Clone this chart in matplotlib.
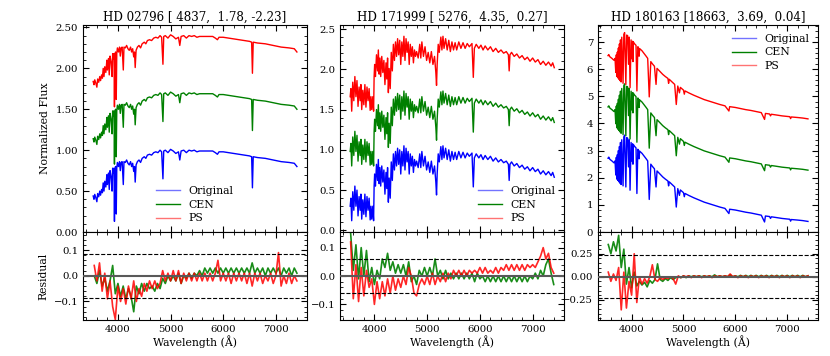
import matplotlib
matplotlib.use('Agg')
import matplotlib.pyplot as plt
import numpy as np
from matplotlib.ticker import AutoMinorLocator, FormatStrFormatter

plt.rcParams['font.family'] = 'DejaVu Serif'
plt.rcParams['mathtext.fontset'] = 'dejavuserif'

# ---- data ----
titles = ['HD 02796 [ 4837,  1.78, -2.23]',
          'HD 171999 [ 5276,  4.35,  0.27]',
          'HD 180163 [18663,  3.69,  0.04]']
labels = ['Original', 'CEN', 'PS']

# original spectrum, (wavelength, normalized flux)
spec_02796 = [(3530, 0.44), (3545, 0.40), (3560, 0.46), (3580, 0.42), (3600, 0.37), (3615, 0.47),
              (3635, 0.43), (3655, 0.50), (3670, 0.45), (3690, 0.52), (3705, 0.48), (3720, 0.60),
              (3735, 0.50), (3750, 0.62), (3770, 0.55), (3790, 0.70), (3800, 0.58), (3820, 0.72),
              (3835, 0.52), (3850, 0.75), (3870, 0.68), (3889, 0.50), (3900, 0.78), (3915, 0.72),
              (3925, 0.78), (3934, 0.13), (3943, 0.75), (3955, 0.80), (3968, 0.22), (3978, 0.78),
              (3990, 0.85), (4010, 0.80), (4030, 0.86), (4045, 0.75), (4060, 0.85), (4080, 0.86),
              (4102, 0.58), (4115, 0.86), (4140, 0.85), (4165, 0.88), (4190, 0.84), (4215, 0.82),
              (4240, 0.86), (4260, 0.80), (4280, 0.84), (4300, 0.74), (4315, 0.80), (4328, 0.61),
              (4345, 0.82), (4370, 0.86), (4400, 0.88), (4430, 0.85), (4460, 0.90), (4500, 0.92),
              (4530, 0.90), (4560, 0.94), (4600, 0.95), (4640, 0.94), (4680, 0.97), (4720, 0.98),
              (4760, 0.97), (4800, 1.00), (4830, 0.98), (4855, 0.65), (4870, 0.99), (4900, 1.00),
              (4950, 0.97), (5000, 1.01), (5050, 0.99), (5100, 0.96), (5150, 0.98), (5175, 0.88),
              (5200, 0.99), (5250, 1.00), (5300, 0.97), (5350, 1.00), (5400, 0.99), (5450, 1.00),
              (5500, 0.98), (5550, 0.99), (5600, 0.99), (5700, 0.99), (5800, 0.99), (5850, 0.97),
              (5890, 0.95), (5920, 0.98), (6000, 0.98), (6100, 0.97), (6200, 0.96), (6300, 0.95),
              (6400, 0.94), (6500, 0.93), (6540, 0.92), (6555, 0.54), (6570, 0.92), (6650, 0.91),
              (6800, 0.90), (6950, 0.88), (7100, 0.86), (7250, 0.85), (7350, 0.84), (7400, 0.80)]

spec_171999 = [(3541, 0.30), (3555, 0.40), (3570, 0.12), (3590, 0.48), (3610, 0.25), (3630, 0.55),
               (3650, 0.30), (3670, 0.50), (3690, 0.18), (3710, 0.42), (3730, 0.25), (3745, 0.45),
               (3760, 0.14), (3780, 0.38), (3800, 0.20), (3820, 0.45), (3840, 0.17), (3860, 0.42),
               (3880, 0.25), (3900, 0.40), (3920, 0.13), (3935, 0.30), (3950, 0.14), (3970, 0.30),
               (3985, 0.12), (3995, 0.55), (4005, 0.70), (4020, 0.55), (4040, 0.82), (4060, 0.62),
               (4075, 0.88), (4090, 0.58), (4105, 0.78), (4120, 0.55), (4140, 0.80), (4160, 0.60),
               (4180, 0.75), (4200, 0.45), (4220, 0.72), (4235, 0.52), (4250, 0.78), (4265, 0.35),
               (4280, 0.65), (4300, 0.40), (4320, 0.85), (4340, 0.62), (4360, 0.95), (4380, 0.75),
               (4400, 0.98), (4420, 0.80), (4440, 1.02), (4460, 0.82), (4480, 1.00), (4500, 0.70),
               (4520, 0.98), (4540, 0.80), (4560, 1.05), (4580, 0.75), (4600, 1.02), (4620, 0.85),
               (4640, 0.98), (4660, 0.70), (4680, 0.95), (4700, 0.80), (4720, 0.92), (4740, 0.72),
               (4760, 0.88), (4780, 0.80), (4800, 0.86), (4830, 0.78), (4860, 0.95), (4880, 0.78),
               (4900, 0.98), (4930, 0.80), (4960, 0.92), (4990, 0.75), (5020, 0.85), (5050, 0.72),
               (5080, 0.86), (5110, 0.70), (5140, 0.80), (5165, 0.60), (5178, 0.44), (5190, 0.70),
               (5210, 0.95), (5230, 0.85), (5260, 1.04), (5280, 0.88), (5300, 1.05), (5320, 0.90),
               (5350, 1.02), (5380, 0.88), (5410, 1.00), (5440, 0.86), (5470, 0.98), (5500, 0.88),
               (5530, 0.97), (5560, 0.88), (5600, 0.98), (5640, 0.90), (5680, 0.97), (5720, 0.90),
               (5760, 0.96), (5800, 0.92), (5850, 0.96), (5875, 0.54), (5895, 0.90), (5930, 0.95),
               (5980, 0.90), (6020, 0.94), (6060, 0.88), (6100, 0.93), (6150, 0.88), (6200, 0.92),
               (6250, 0.86), (6300, 0.90), (6350, 0.85), (6400, 0.88), (6450, 0.84), (6500, 0.86),
               (6540, 0.82), (6555, 0.62), (6570, 0.82), (6600, 0.85), (6650, 0.80), (6700, 0.83),
               (6750, 0.78), (6800, 0.81), (6850, 0.76), (6900, 0.79), (6950, 0.74), (7000, 0.78),
               (7050, 0.73), (7100, 0.76), (7150, 0.70), (7200, 0.74), (7250, 0.69), (7300, 0.73),
               (7350, 0.68), (7380, 0.72), (7410, 0.66)]

spec_180163 = [(3545, 2.72), (3560, 2.76), (3580, 2.68), (3620, 2.62), (3660, 2.55), (3680, 2.62),
               (3695, 2.10), (3705, 2.75), (3715, 1.95), (3725, 2.85), (3735, 1.90), (3745, 3.00),
               (3755, 1.85), (3765, 3.15), (3775, 1.80), (3785, 3.30), (3797, 1.75), (3810, 3.40),
               (3835, 1.70), (3850, 3.50), (3865, 3.57), (3889, 1.66), (3905, 3.48), (3925, 3.45),
               (3940, 2.40), (3955, 3.40), (3970, 1.54), (3990, 3.30), (4009, 2.60), (4020, 3.25),
               (4026, 2.50), (4035, 3.22), (4060, 3.15), (4085, 3.10), (4102, 1.42), (4120, 3.05),
               (4135, 3.00), (4144, 2.70), (4155, 2.98), (4200, 2.90), (4240, 2.80), (4280, 2.70),
               (4310, 2.62), (4340, 1.20), (4370, 2.50), (4400, 2.42), (4440, 2.33), (4471, 1.66),
               (4490, 2.25), (4550, 2.13), (4600, 2.03), (4650, 1.95), (4700, 1.88), (4713, 1.70),
               (4725, 1.85), (4780, 1.75), (4830, 1.66), (4861, 0.92), (4890, 1.60), (4922, 1.35),
               (4940, 1.55), (5000, 1.45), (5016, 1.30), (5030, 1.42), (5100, 1.35), (5200, 1.26),
               (5300, 1.18), (5400, 1.10), (5500, 1.04), (5600, 0.98), (5700, 0.92), (5800, 0.87),
               (5876, 0.68), (5890, 0.84), (6000, 0.81), (6100, 0.77), (6200, 0.73), (6300, 0.70),
               (6400, 0.66), (6500, 0.62), (6563, 0.37), (6580, 0.59), (6660, 0.57), (6678, 0.50),
               (6695, 0.56), (6800, 0.53), (6900, 0.50), (7000, 0.48), (7050, 0.47), (7065, 0.40),
               (7080, 0.46), (7200, 0.44), (7300, 0.42), (7400, 0.39)]

# vertical shift of the CEN and PS curves in each panel
shift_02796 = [0.0, 0.70, 1.40]
shift_171999 = [0.0, 0.68, 1.36]
shift_180163 = [0.0, 1.89, 3.78]

# residuals, evenly sampled from 3550 to 7400 A
res_cen_02796 = [0.00, -0.03, 0.02, -0.04, -0.01, -0.06, -0.02, 0.04, -0.07, -0.03, -0.08, -0.04,
                 -0.09, -0.05, -0.08, -0.14, -0.04, -0.07, -0.03, -0.06, -0.03, -0.05, -0.04, -0.06,
                 -0.03, -0.05, -0.01, -0.03, 0.00, -0.02, 0.00, -0.02, 0.01, -0.03, 0.00, -0.01,
                 0.01, -0.01, 0.01, 0.00, 0.02, 0.00, 0.03, 0.01, 0.03, 0.01, 0.03, 0.01, 0.03,
                 0.01, 0.03, 0.01, 0.03, 0.01, 0.03, 0.01, 0.03, 0.01, 0.03, 0.01, 0.05, 0.01, 0.03,
                 0.01, 0.03, 0.00, 0.03, 0.01, 0.03, 0.01, 0.03, 0.00, 0.03, 0.01, 0.03, 0.00, 0.03, 0.01]
res_ps_02796 = [0.04, -0.02, 0.05, -0.06, 0.01, -0.09, -0.02, -0.12, -0.17, -0.04, -0.10, -0.05,
                -0.11, -0.04, -0.09, -0.02, -0.10, -0.05, -0.08, -0.03, -0.06, -0.02, -0.05, -0.02,
                -0.05, -0.03, 0.02, -0.02, 0.01, -0.02, 0.02, -0.02, 0.02, -0.03, 0.01, -0.02,
                0.01, -0.02, 0.01, -0.02, 0.01, -0.02, 0.01, -0.02, 0.01, -0.02, 0.01, 0.06, -0.02,
                0.01, -0.02, 0.01, -0.03, 0.01, -0.02, 0.01, -0.02, 0.01, -0.03, 0.01, -0.04, 0.01,
                -0.02, 0.01, -0.03, 0.00, -0.02, 0.01, -0.03, 0.00, 0.09, -0.04, 0.00, -0.03, 0.01,
                -0.03, 0.00, -0.02]
res_cen_171999 = [0.15, 0.02, 0.11, -0.01, 0.10, 0.00, 0.09, -0.02, 0.03, -0.03, 0.02, -0.01,
                  0.06, 0.03, 0.08, 0.02, 0.05, 0.01, 0.04, 0.01, 0.04, 0.00, 0.05, -0.02, 0.00,
                  -0.03, 0.02, 0.00, 0.03, 0.00, 0.03, 0.00, 0.06, 0.00, 0.02, -0.01, 0.02, -0.01,
                  0.01, -0.01, 0.01, -0.01, 0.01, -0.01, 0.01, -0.01, 0.01, -0.02, 0.01, -0.01,
                  0.00, -0.02, 0.00, -0.02, 0.00, -0.02, 0.00, -0.02, 0.00, -0.02, 0.00, -0.02,
                  0.00, -0.02, 0.00, -0.02, 0.00, -0.02, 0.00, -0.01, 0.01, -0.01, 0.02, 0.00,
                  0.04, 0.06, 0.01, -0.03]
res_ps_171999 = [0.12, -0.08, 0.04, -0.09, 0.03, -0.07, 0.02, -0.04, -0.01, -0.10, -0.02, -0.08,
                 -0.02, -0.07, -0.01, -0.06, 0.00, -0.05, -0.01, -0.04, 0.00, -0.03, 0.03, 0.00,
                 -0.06, -0.07, -0.03, -0.01, -0.03, 0.00, -0.03, 0.01, -0.03, 0.00, -0.02, 0.01,
                 -0.02, 0.01, -0.01, 0.02, 0.00, 0.02, 0.00, 0.02, 0.00, 0.02, 0.01, 0.02, 0.01,
                 0.03, 0.01, 0.03, 0.01, 0.02, 0.01, 0.03, 0.01, 0.03, 0.02, 0.04, 0.02, 0.04,
                 0.02, 0.04, 0.02, 0.04, 0.02, 0.04, 0.03, 0.04, 0.03, 0.05, 0.07, 0.10, 0.06,
                 0.08, 0.03, 0.01]
res_cen_180163 = [0.35, 0.25, 0.38, 0.28, 0.45, 0.10, 0.30, -0.08, 0.10, -0.12, 0.05, -0.10,
                  -0.05, -0.09, -0.06, -0.11, -0.04, -0.07, -0.03, 0.14, -0.03, -0.05, -0.02,
                  -0.04, -0.01, -0.03, -0.01, 0.00, -0.01, 0.01, -0.01, 0.01, 0.00, 0.01, 0.00,
                  0.01, 0.00, 0.01, 0.00, 0.01, 0.00, 0.02, 0.00, 0.01, 0.00, 0.01, 0.00, 0.02,
                  0.00, 0.01, 0.00, 0.015, 0.00, 0.015, 0.00, 0.015, 0.00, 0.015, 0.00, 0.015,
                  0.00, 0.015, 0.00, 0.015, 0.00, 0.015, 0.00, 0.015, 0.00, 0.015, 0.00, 0.015,
                  0.00, 0.015, 0.00, 0.015, 0.00, 0.01]
res_ps_180163 = [0.05, -0.05, 0.03, -0.04, 0.10, -0.36, 0.05, -0.34, -0.05, -0.20, 0.25, -0.28,
                 0.00, -0.08, -0.02, -0.07, 0.00, 0.13, -0.03, -0.05, -0.01, -0.03, -0.01, -0.02,
                 0.00, -0.02, -0.08, 0.01, -0.01, 0.01, 0.00, 0.01, -0.01, 0.01, 0.00, 0.01,
                 -0.01, 0.01, 0.00, 0.01, -0.01, 0.01, 0.00, 0.01, 0.00, 0.01, 0.00, 0.03, 0.00,
                 0.01, -0.01, 0.01, 0.00, 0.01, -0.01, 0.01, 0.00, 0.01, -0.01, 0.01, 0.00, 0.01,
                 -0.01, 0.01, 0.00, 0.01, -0.01, 0.01, 0.00, 0.01, -0.01, 0.01, 0.00, 0.01, -0.01,
                 0.01, 0.00, 0.01]

# ---- figure ----
spectra = [spec_02796, spec_171999, spec_180163]
shifts = [shift_02796, shift_171999, shift_180163]
res_cen = [res_cen_02796, res_cen_171999, res_cen_180163]
res_ps = [res_ps_02796, res_ps_171999, res_ps_180163]

colors = ['blue', 'green', 'red']
lefts = [0.100, 0.4096, 0.7205]
widths = [0.270, 0.2705, 0.2650]
top_ylims = [(0, 2.53), (-0.02, 2.55), (0, 7.63)]
res_ylims = [(-0.172, 0.17), (-0.155, 0.155), (-0.47, 0.486)]
res_band = [0.086, 0.059, 0.235]
leg_locs = ['lower center', 'lower right', 'upper right']

fig = plt.figure(figsize=(8.3, 3.56), dpi=100)


def style(ax):
    ax.tick_params(which='both', direction='in', top=True, right=True, labelsize=7.3)
    ax.tick_params(which='major', length=4)
    ax.tick_params(which='minor', length=2)
    ax.xaxis.set_minor_locator(AutoMinorLocator())
    ax.yaxis.set_minor_locator(AutoMinorLocator())


for i in range(3):
    ax = fig.add_axes([lefts[i], 0.3483, widths[i], 0.5815])
    rax = fig.add_axes([lefts[i], 0.1011, widths[i], 0.2472], sharex=ax)

    wl, fl = np.array(spectra[i]).T
    for k in range(3):
        ax.plot(wl, fl + shifts[i][k], color=colors[k], lw=1.0, label=labels[k])
    ax.set_ylim(*top_ylims[i])
    ax.set_title(titles[i], fontsize=8.6, pad=3)
    leg = ax.legend(loc=leg_locs[i], frameon=False, fontsize=7.8, handlelength=2.2,
                    labelspacing=0.35, borderaxespad=0.4)
    for h, a in zip(leg.legend_handles, [0.55, 1.0, 0.55]):
        h.set_alpha(a)
    plt.setp(ax.get_xticklabels(), visible=False)
    if i == 0:
        ax.yaxis.set_major_formatter(FormatStrFormatter('%.2f'))
        ax.set_ylabel('Normalized Flux', fontsize=7.8)

    rwl = np.linspace(3550, 7400, len(res_cen[i]))
    rax.plot(rwl, res_cen[i], color='green', lw=1.2, alpha=0.9)
    rax.plot(rwl, res_ps[i], color='red', lw=1.2, alpha=0.85)
    rax.axhline(0, color='0.35', lw=1.5, zorder=5)
    rax.axhline(res_band[i], color='k', ls='--', lw=0.8)
    rax.axhline(-res_band[i], color='k', ls='--', lw=0.8)
    rax.set_ylim(*res_ylims[i])
    rax.set_xlabel('Wavelength (Å)', fontsize=7.8, labelpad=1)
    if i == 0:
        rax.set_ylabel('Residual', fontsize=7.8)

    style(ax)
    style(rax)

fig.savefig('out.png', dpi=100)
